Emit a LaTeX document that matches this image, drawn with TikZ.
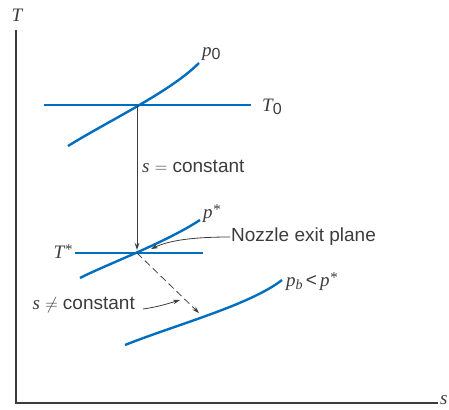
\documentclass[tikz,border=0pt]{standalone}
\usepackage{fontspec}
\setmainfont{Liberation Sans}
\newfontfamily\vf{Liberation Serif}
\usetikzlibrary{arrows.meta}
\definecolor{curveblue}{RGB}{0,110,190}
\definecolor{axisgray}{RGB}{60,60,60}
\newcommand{\subz}{{\fontsize{16}{18}\selectfont\normalfont\upshape\raisebox{-3pt}{0}}}
\newcommand{\supstar}{\raisebox{4pt}{\fontsize{15}{17}\selectfont *}}
\tikzset{
  curve/.style={draw=curveblue, line width=2.4pt},
  axis/.style={draw=axisgray, line width=1.1pt},
  pointer/.style={draw=axisgray, line width=0.8pt, -{Stealth[length=7pt,width=4.5pt]}},
  lbl/.style={font=\fontsize{19}{22}\selectfont, text=axisgray, inner sep=1pt},
  var/.style={font=\fontsize{19}{22}\selectfont\vf\itshape, text=axisgray, inner sep=1pt}
}
\begin{document}
\begin{tikzpicture}[x=1pt,y=-1pt]
\useasboundingbox (0,0) rectangle (449,409);
% axes
\coordinate (O) at (16,403);
\coordinate (Ytop) at (16,30);
\coordinate (Xend) at (438,403);
\draw[axis] (Ytop) -- (O) -- (Xend);
\node[var] (Tax) at (17,15) {T};
\node[var, anchor=west] (sax) at (439,400) {s};
% T0 line and p0 curve
\coordinate (T0a) at (44,105);
\coordinate (T0b) at (251,105);
\coordinate (A) at (137,105);
\draw[curve] (T0a) -- (T0b);
\node[var, anchor=west] (T0l) at (261,107) {T\subz};
\coordinate (p0a) at (68,146);
\coordinate (p0b) at (199,63);
\draw[curve] (p0a) .. controls (110,120) and (170,92) .. (p0b);
\node[var, anchor=west] (p0l) at (201,54) {p\subz};
% T* line and p* curve
\coordinate (Tsa) at (75,253);
\coordinate (Tsb) at (203,253);
\coordinate (B) at (137,253);
\draw[curve] (Tsa) -- (Tsb);
\node[var, anchor=east] (Tsl) at (73,252) {T\supstar};
\coordinate (psa) at (80,278);
\coordinate (psb) at (200,220);
\draw[curve] (psa) .. controls (105,265) and (165,243) .. (psb);
\node[var, anchor=west] (psl) at (202,214) {p\supstar};
% isentropic arrow
\draw[pointer] (A) -- (137,250);
\node[lbl, anchor=west] (sconst) at (141,166) {{\vf\itshape s} $=$ constant};
% p_b curve
\coordinate (pba) at (125,345);
\coordinate (pbb) at (282,280);
\draw[curve] (pba) .. controls (175,325) and (250,305) .. (pbb);
\node[var, anchor=west] (pbl) at (285,282) {p\raisebox{-3pt}{\fontsize{14}{16}\selectfont b}\,{\normalfont\upshape<}\,p\supstar};
% dashed arrow
\coordinate (C) at (199,313);
\draw[pointer, dashed, dash pattern=on 7pt off 4pt] (B) -- (C);
% s != constant
\node[lbl, anchor=east] (sneq) at (136,305) {{\vf\itshape s} $\neq$ constant};
\coordinate (D) at (180,300);
\draw[pointer] (143,309) .. controls (158,307) and (170,303) .. (D);
% nozzle exit plane
\node[lbl, anchor=west] (nozzle) at (230,237) {Nozzle exit plane};
\coordinate (E) at (151,249);
\draw[pointer] (nozzle.west) .. controls (195,237) and (170,240) .. (E);
\end{tikzpicture}
\end{document}
